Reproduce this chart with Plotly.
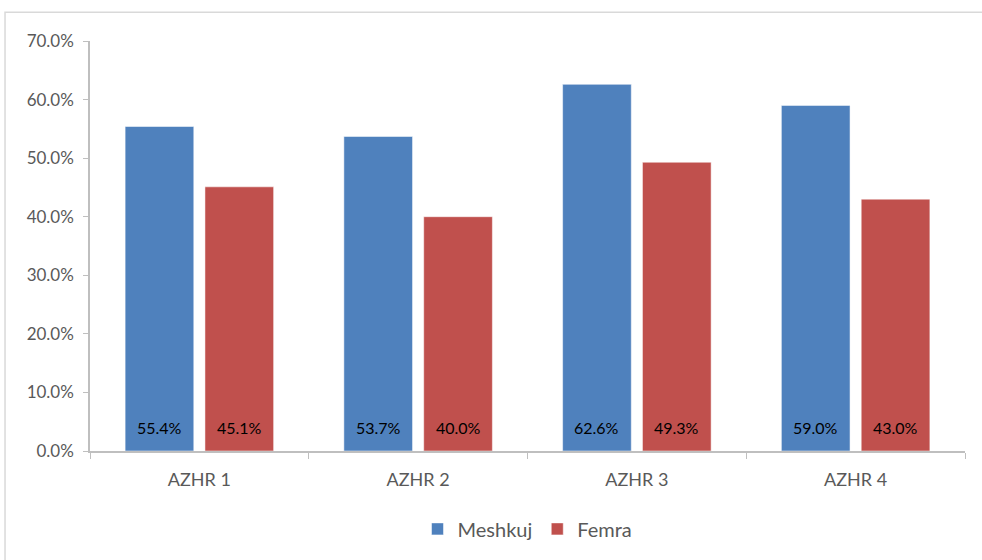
import plotly.graph_objects as go

categories = ["AZHR 1", "AZHR 2", "AZHR 3", "AZHR 4"]
meshkuj = [55.4, 53.7, 62.6, 59.0]
femra = [45.1, 40.0, 49.3, 43.0]
y_ticks = [0, 10, 20, 30, 40, 50, 60, 70]
y_tick_labels = [f"{v:.1f}%" for v in y_ticks]

FONT = "Lato, Open Sans, sans-serif"
series = [("Meshkuj", meshkuj, "#4F81BD"), ("Femra", femra, "#C0504D")]

fig = go.Figure()
for name, vals, color in series:
    fig.add_trace(go.Bar(
        name=name, x=categories, y=vals,
        marker=dict(color=color, line=dict(color="rgba(255,255,255,0.5)", width=1)),
        hovertemplate="%{x}: %{y:.1f}%<extra>" + name + "</extra>",
    ))

# data labels near the base of each bar
annotations = []
for i, (name, vals, color) in enumerate(series):
    for cat, v in zip(categories, vals):
        annotations.append(dict(
            x=cat, y=0, xref="x", yref="y", text=f"{v:.1f}%", showarrow=False,
            xanchor="center", yanchor="bottom", xshift=(i - 0.5) * 80, yshift=12,
            font=dict(color="#000000", size=16, family=FONT),
        ))

fig.update_layout(
    width=982, height=560,
    margin=dict(l=90, r=17, t=41, b=107),
    paper_bgcolor="white", plot_bgcolor="white",
    barmode="group", bargap=0.27, bargroupgap=0.14,
    font=dict(family=FONT, color="#595959", size=16),
    showlegend=True,
    legend=dict(orientation="h", x=0.5, xanchor="center", y=-0.19, yanchor="middle",
                font=dict(size=20, color="#595959", family=FONT), itemwidth=30,
                traceorder="normal"),
    xaxis=dict(showline=True, linecolor="#BFBFBF", linewidth=1.5,
               ticks="outside", tickcolor="#BFBFBF", ticklen=6, tickson="boundaries",
               ticklabelstandoff=12,
               tickfont=dict(size=18, color="#595959"), showgrid=False),
    yaxis=dict(range=[0, 70], tickvals=y_ticks, ticktext=y_tick_labels,
               showline=True, linecolor="#BFBFBF", linewidth=1.5,
               ticks="outside", tickcolor="#BFBFBF", ticklen=5,
               ticklabelstandoff=6,
               showgrid=False, zeroline=False,
               tickfont=dict(size=17, color="#595959")),
    annotations=annotations,
    shapes=[dict(type="rect", xref="paper", yref="paper",
                 x0=-0.0971, x1=1.05, y0=-0.3, y1=1.0704,
                 line=dict(color="#D9D9D9", width=1.5), fillcolor="rgba(0,0,0,0)", layer="below")],
)

fig.write_html("out.html", config={"displayModeBar": False},
               post_script="document.body.style.margin='0';document.body.style.overflow='hidden';")
